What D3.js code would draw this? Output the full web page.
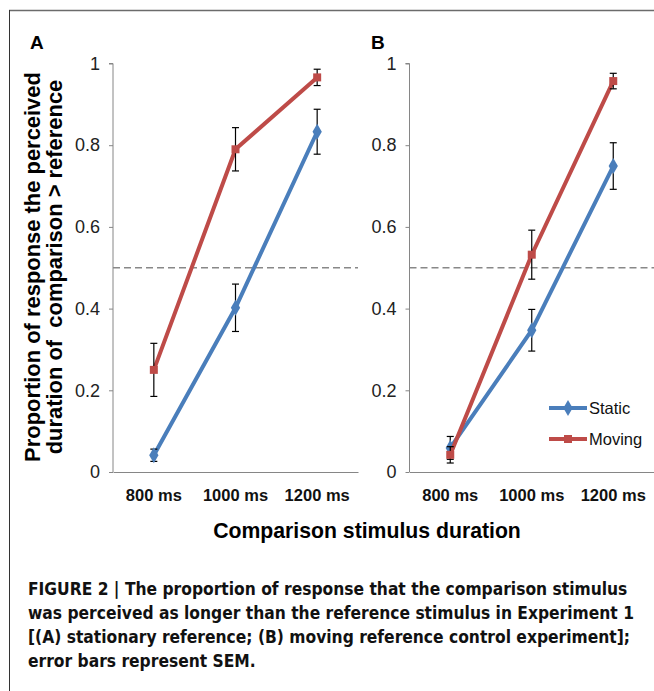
<!DOCTYPE html>
<html>
<head>
<meta charset="utf-8">
<script src="https://cdn.jsdelivr.net/npm/d3@7"></script>
<style>
  body { margin: 0; background: #fff; }
  svg { display: block; }
  svg text { font-family: 'Liberation Sans', Arial, Helvetica, Roboto, sans-serif; }
</style>
</head>
<body>
<div id="chart"></div>
<script>
// categories on the x axis (same for both panels)
const durations = ["800 ms", "1000 ms", "1200 ms"];
const yTicks = [0, 0.2, 0.4, 0.6, 0.8, 1];

// panel A - stationary reference
const staticA = [0.041, 0.402, 0.833];
const staticAErr = [0.015, 0.058, 0.055];
const movingA = [0.25, 0.79, 0.966];
const movingAErr = [0.065, 0.053, 0.02];

// panel B - moving reference control
const staticB = [0.059, 0.347, 0.749];
const staticBErr = [0.028, 0.051, 0.057];
const movingB = [0.042, 0.532, 0.957];
const movingBErr = [0.02, 0.06, 0.019];

const seriesNames = ["Static", "Moving"];
const captionLines = [
  "FIGURE 2 | The proportion of response that the comparison stimulus",
  "was perceived as longer than the reference stimulus in Experiment 1",
  "[(A) stationary reference; (B) moving reference control experiment];",
  "error bars represent SEM."
];

// shrink/grow a text's font so its width is about `target` px
function fitWidth(sel, target, base) {
  const w = sel.node().getComputedTextLength();
  const size = base * target / w;
  sel.style("font-size", size + "px");
  return size;
}

class ProportionChart {

  constructor(_config) {
    this.config = {
      parentElement: _config.parentElement,
      width: 654,
      height: 691
    };
    this.initVis();
  }

  initVis() {
    let vis = this;
    vis.blue = "#4a7ebb";
    vis.red = "#be4b48";
    vis.axisColor = "#868686";

    vis.svg = d3.select(vis.config.parentElement).append("svg")
      .attr("width", vis.config.width)
      .attr("height", vis.config.height);

    // frame lines (top + left)
    vis.svg.append("line")
      .attr("x1", 9).attr("x2", 654).attr("y1", 10.5).attr("y2", 10.5)
      .attr("stroke", "#6b6b6b").attr("stroke-width", 1.6);
    vis.svg.append("line")
      .attr("x1", 9.5).attr("x2", 9.5).attr("y1", 10).attr("y2", 691)
      .attr("stroke", "#333").attr("stroke-width", 1);

    //shared y scale
    vis.y = d3.scaleLinear().domain([0, 1]).range([472, 63.5]);

    vis.drawPanel("A", [113, 358], [30, 49], [
      { name: seriesNames[0], vals: staticA, err: staticAErr, color: vis.blue, shape: d3.symbolDiamond },
      { name: seriesNames[1], vals: movingA, err: movingAErr, color: vis.red, shape: d3.symbolSquare }
    ], false);

    vis.drawPanel("B", [409.5, 654], [371, 49], [
      { name: seriesNames[0], vals: staticB, err: staticBErr, color: vis.blue, shape: d3.symbolDiamond },
      { name: seriesNames[1], vals: movingB, err: movingBErr, color: vis.red, shape: d3.symbolSquare }
    ], true);

    // y axis title (two lines, rotated)
    const yTitle = vis.svg.append("g")
      .attr("transform", "translate(0,267) rotate(-90)")
      .style("font-weight", "bold")
      .attr("text-anchor", "middle");
    const yt1 = yTitle.append("text").attr("y", 40).style("font-size", "20px")
      .text("Proportion of response the perceived");
    const ySize = fitWidth(yt1, 390, 20);
    yTitle.append("text").attr("y", 62).style("font-size", ySize + "px")
      .attr("xml:space", "preserve").text("duration of  comparison > reference");

    // x axis title
    const xt = vis.svg.append("text")
      .attr("x", 367).attr("y", 538)
      .attr("text-anchor", "middle")
      .style("font-weight", "bold")
      .style("font-size", "20px")
      .text("Comparison stimulus duration");
    fitWidth(xt, 308, 20);

    // caption
    const cap = vis.svg.append("g")
      .style("font-weight", "bold")
      .attr("fill", "#111");
    const capText = captionLines.map((t, i) =>
      cap.append("text").attr("x", 28).attr("y", 595 + i * 24)
        .style("font-family", "'Liberation Sans Narrow', 'DejaVu Sans Condensed', sans-serif")
        .style("font-size", "17px")
        .text(t));
    const cSize = fitWidth(capText[0], 600, 17);
    capText.forEach(t => t.style("font-size", cSize + "px"));
  }

  drawPanel(label, range, labelPos, series, withLegend) {
    let vis = this;
    const x = d3.scaleBand().domain(durations).range(range);
    const cx = d => x(d) + x.bandwidth() / 2;
    const g = vis.svg.append("g");

    // panel letter
    g.append("text")
      .attr("x", labelPos[0]).attr("y", labelPos[1])
      .style("font-weight", "bold").style("font-size", "19px")
      .text(label);

    // y axis
    const yAxis = g.append("g")
      .attr("transform", `translate(${range[0]},0)`)
      .call(d3.axisLeft(vis.y).tickValues(yTicks).tickSize(4).tickPadding(9)
        .tickFormat(d => d === 0 || d === 1 ? d3.format("d")(d) : d3.format(".1f")(d)));
    yAxis.select(".domain").attr("stroke", vis.axisColor).attr("d", `M-4,${vis.y(1)}H0V${vis.y(0)}`);
    yAxis.selectAll(".tick line").attr("stroke", vis.axisColor);
    yAxis.selectAll(".tick text").attr("fill", "#222").style("font-size", "18px");

    // x axis
    const xAxis = g.append("g")
      .attr("transform", `translate(0,${vis.y(0)})`)
      .call(d3.axisBottom(x).tickSize(0).tickPadding(17));
    xAxis.select(".domain").attr("stroke", vis.axisColor);
    xAxis.selectAll(".tick text").attr("fill", "#111").style("font-size", "16.5px")
      .style("font-weight", "bold");

    // 0.5 reference line
    g.append("line")
      .attr("x1", range[0]).attr("x2", range[1])
      .attr("y1", vis.y(0.5)).attr("y2", vis.y(0.5))
      .attr("stroke", "#888").attr("stroke-width", 1.5)
      .attr("stroke-dasharray", "7,4");

    const line = d3.line().x((d, i) => cx(durations[i])).y(d => vis.y(d));

    series.forEach(s => {
      g.append("path")
        .datum(s.vals)
        .attr("d", line)
        .attr("fill", "none")
        .attr("stroke", s.color)
        .attr("stroke-width", 4);

      // error bars (SEM)
      const eb = g.append("g").selectAll("g")
        .data(s.vals.map((v, i) => ({ v: v, e: s.err[i], c: durations[i] })))
        .join("g")
        .attr("stroke", "#000").attr("stroke-width", 1.2);
      eb.append("line")
        .attr("x1", d => cx(d.c)).attr("x2", d => cx(d.c))
        .attr("y1", d => vis.y(d.v + d.e)).attr("y2", d => vis.y(d.v - d.e));
      eb.append("line")
        .attr("x1", d => cx(d.c) - 3.5).attr("x2", d => cx(d.c) + 3.5)
        .attr("y1", d => vis.y(d.v + d.e)).attr("y2", d => vis.y(d.v + d.e));
      eb.append("line")
        .attr("x1", d => cx(d.c) - 3.5).attr("x2", d => cx(d.c) + 3.5)
        .attr("y1", d => vis.y(d.v - d.e)).attr("y2", d => vis.y(d.v - d.e));

      g.append("g").selectAll("path")
        .data(s.vals)
        .join("path")
        .attr("transform", (d, i) => `translate(${cx(durations[i])},${vis.y(d)})`)
        .attr("d", d3.symbol().type(s.shape).size(s.shape === d3.symbolSquare ? 64 : 75))
        .attr("fill", s.color);
    });

    if (withLegend) {
      const leg = g.append("g").selectAll("g")
        .data(series)
        .join("g")
        .attr("transform", (d, i) => `translate(549,${408 + i * 31})`);
      leg.append("line")
        .attr("x1", 0).attr("x2", 38)
        .attr("stroke", d => d.color).attr("stroke-width", 4);
      leg.append("path")
        .attr("transform", "translate(19,0)")
        .attr("d", d => d3.symbol().type(d.shape).size(d.shape === d3.symbolSquare ? 64 : 75)())
        .attr("fill", d => d.color);
      leg.append("text")
        .attr("x", 40).attr("y", 6)
        .style("font-size", "16.5px")
        .attr("fill", "#111")
        .text(d => d.name);
    }
  }
}

new ProportionChart({ parentElement: "#chart" });
</script>
</body>
</html>
